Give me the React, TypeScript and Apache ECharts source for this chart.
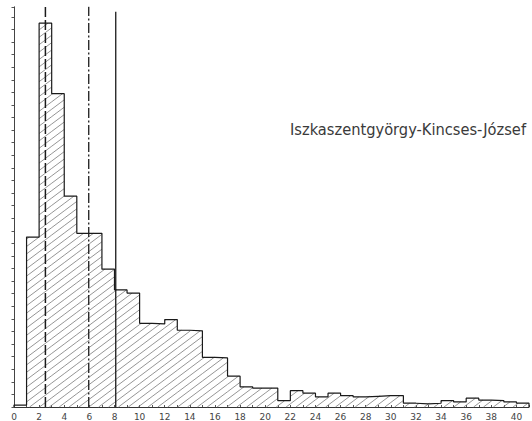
import React, { useEffect, useRef } from "react";
import * as echarts from "echarts";

// Bin start values (bin width 1), frequencies in axis units
const binStarts = [
  0, 1, 2, 3, 4, 5, 6, 7, 8, 9, 10, 11, 12, 13, 14, 15, 16, 17, 18, 19, 20,
  21, 22, 23, 24, 25, 26, 27, 28, 29, 30, 31, 32, 33, 34, 35, 36, 37, 38, 39, 40,
];
const frequencies = [
  0.15, 13.5, 30.5, 24.9, 16.75, 13.8, 13.8, 10.95, 9.3, 9.05, 6.65, 6.6, 6.95,
  6.1, 6.05, 3.95, 3.9, 2.45, 1.6, 1.5, 1.5, 0.5, 1.3, 1.1, 0.8, 1.1, 0.9, 0.8,
  0.85, 0.9, 0.9, 0.3, 0.25, 0.3, 0.5, 0.4, 0.7, 0.55, 0.5, 0.4, 0.3,
];
const binWidth = 1;

// Vertical marker lines: position and top
const markerPositions = [2.5, 5.95, 8.1];
const markerTops = [31.8, 31.8, 31.4];

const titleText = "Iszkaszentgyörgy-Kincses-József";

export default function App() {
  const ref = useRef<HTMLDivElement>(null);

  useEffect(() => {
    if (!ref.current) return;
    const chart = echarts.init(ref.current, undefined, { renderer: "svg" });

    const binData = binStarts.map((s, i) => [s, s + binWidth, frequencies[i]]);

    const outline: number[][] = [[binStarts[0], 0]];
    binStarts.forEach((s, i) => {
      outline.push([s, frequencies[i]]);
      outline.push([s + binWidth, frequencies[i]]);
    });
    outline.push([binStarts[binStarts.length - 1] + binWidth, 0]);

    const markerStyles: any[] = [
      { type: [10, 3], width: 1.5 },
      { type: [10, 2.5, 2, 2.5], width: 1.3 },
      { type: "solid", width: 1.3 },
    ];

    const markerSeries = markerPositions.map((x, i) => ({
      type: "line",
      data: [
        [x, 0],
        [x, markerTops[i]],
      ],
      symbol: "none",
      silent: true,
      lineStyle: { color: "#1a1a1a", ...markerStyles[i] },
      z: 5,
    }));

    const S = 0.75;
    const D = 7.4;

    const option: any = {
      animation: false,
      backgroundColor: "#ffffff",
      grid: { left: 14, right: 1.4, top: 6.8, bottom: 13.5 },
      xAxis: {
        type: "value",
        min: 0,
        max: 41,
        interval: 1,
        splitLine: { show: false },
        axisLine: { lineStyle: { color: "#333", width: 1 } },
        axisTick: { inside: true, length: 2, lineStyle: { color: "#555" } },
        axisLabel: {
          color: "#444",
          fontSize: 9,
          fontFamily: "DejaVu Sans",
          margin: 5,
          formatter: (v: number) => (v % 2 === 0 ? String(v) : ""),
        },
      },
      yAxis: {
        type: "value",
        min: 0,
        max: 31.8,
        interval: 1,
        splitLine: { show: false },
        axisLine: { show: true, lineStyle: { color: "#444", width: 1 } },
        axisTick: { show: true, inside: false, length: 2.5, lineStyle: { color: "#555" } },
        axisLabel: { show: false },
      },
      graphic: [
        {
          type: "text",
          left: 290,
          top: 121,
          style: {
            text: titleText,
            fontSize: 16.3,
            fontFamily: "DejaVu Sans Condensed",
            fill: "#3a3a3a",
          },
        },
      ],
      series: [
        {
          type: "custom",
          silent: true,
          data: binData,
          encode: { x: [0, 1], y: 2 },
          renderItem: (params: any, api: any) => {
            const p0 = api.coord([api.value(0), api.value(2)]);
            const p1 = api.coord([api.value(1), 0]);
            const x0 = p0[0];
            const y0 = p0[1];
            const x1 = p1[0];
            const y1 = p1[1];
            const children: any[] = [];
            if (y1 - y0 < 3) return { type: "group", children };
            const fmin = y0 + S * x0;
            const fmax = y1 + S * x1;
            for (let k = Math.ceil(fmin / D); k * D <= fmax; k++) {
              const c = k * D;
              const xa = Math.max(x0, (c - y1) / S);
              const xb = Math.min(x1, (c - y0) / S);
              if (xb - xa > 0.4) {
                children.push({
                  type: "line",
                  shape: { x1: xa, y1: c - S * xa, x2: xb, y2: c - S * xb },
                  style: { stroke: "#7a7a7a", lineWidth: 0.8 },
                });
              }
            }
            return { type: "group", children };
          },
          z: 2,
        },
        {
          type: "line",
          data: outline,
          symbol: "none",
          silent: true,
          lineStyle: { color: "#1a1a1a", width: 1.2 },
          z: 4,
        },
        ...markerSeries,
      ],
    };

    chart.setOption(option);
    return () => chart.dispose();
  }, []);

  return (
    <div
      ref={ref}
      style={{ position: "fixed", left: 0, top: 0, width: 532, height: 421 }}
    />
  );
}
